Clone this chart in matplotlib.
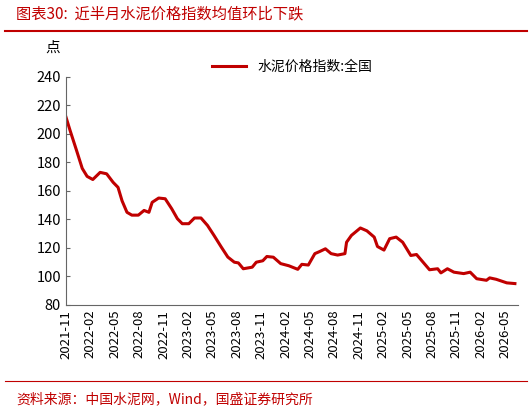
import matplotlib
matplotlib.use("Agg")
import matplotlib.pyplot as plt
import matplotlib.lines as mlines

plt.rcParams['font.family'] = ['Noto Sans CJK SC', 'DejaVu Sans']

# months since 2021-11
months = [0, 0.5, 1.3, 2.0, 2.6, 3.3, 4.2, 5.0, 5.8, 6.4, 6.9, 7.5, 8.1, 8.9, 9.6, 10.2, 10.6,
          11.4, 12.2, 13.0, 13.7, 14.3, 15.1, 15.8, 16.6, 17.4, 18.2, 19.1, 19.9, 20.7, 21.2,
          21.8, 22.9, 23.4, 24.2, 24.7, 25.5, 26.4, 27.4, 28.5, 29.0, 29.8, 30.6, 31.2, 31.9,
          32.6, 33.4, 34.3, 34.5, 35.1, 36.2, 37.0, 37.9, 38.3, 39.1, 39.8, 40.6, 41.4, 42.4,
          43.1, 44.7, 45.7, 46.1, 46.9, 47.7, 48.9, 49.7, 50.5, 51.7, 52.1, 52.9, 54.2, 55.2]
values = [211.8, 202.5, 188.4, 175.8, 170.2, 168, 173, 172, 166, 162.5, 153, 145, 143, 143,
          146.3, 145, 152, 155, 154.5, 147.5, 140.5, 137, 137, 141, 141, 135.8, 128.8, 120.6,
          113.6, 110, 109.5, 105.4, 106.5, 110, 111, 114, 113.5, 109, 107.5, 105, 108.5, 108,
          116, 117.5, 119.4, 116, 115, 116, 124, 128.8, 134, 132, 127.6, 121, 118.5, 126.5,
          127.6, 124, 114.7, 115.4, 104.7, 105.4, 102.5, 105.4, 103, 102, 103, 98.4, 97.3, 99,
          98, 95.5, 95]
tick_labels = ['2021-11', '2022-02', '2022-05', '2022-08', '2022-11', '2023-02', '2023-05',
               '2023-08', '2023-11', '2024-02', '2024-05', '2024-08', '2024-11', '2025-02',
               '2025-05', '2025-08', '2025-11', '2026-02', '2026-05']
series_name = '水泥价格指数:全国'

fig = plt.figure(figsize=(5.32, 4.11), dpi=100)
ax = fig.add_axes([0.124, 0.258, 0.85, 0.555])
ax.plot(months, values, color='#C00000', lw=2.2, label=series_name)
ax.set_xlim(0, 55.6)
ax.set_ylim(80, 240)
ax.set_yticks(range(80, 241, 20))
ax.set_xticks([i * 3 for i in range(len(tick_labels))])
ax.set_xticklabels(tick_labels, rotation=90, fontsize=9.5)
ax.tick_params(axis='y', labelsize=10.5, direction='in', length=3, color='#666666')
ax.tick_params(axis='x', direction='in', length=0)
for s in ['top', 'right']:
    ax.spines[s].set_visible(False)
ax.spines['left'].set_color('#666666')
ax.spines['bottom'].set_color('#666666')
ax.legend(loc='upper center', bbox_to_anchor=(0.5, 1.13), frameon=False, fontsize=10,
          handlelength=2.5)
fig.text(0.085, 0.875, '点', fontsize=10.5)
fig.text(0.03, 0.955, '图表30:  近半月水泥价格指数均值环比下跌', color='#C00000',
         fontsize=11, style='italic')
fig.add_artist(mlines.Line2D([0.01, 0.99], [0.925, 0.925], color='#C00000', lw=1.5))
fig.add_artist(mlines.Line2D([0.01, 0.99], [0.072, 0.072], color='#C00000', lw=0.8))
fig.text(0.03, 0.02, '资料来源：中国水泥网，Wind，国盛证券研究所', color='#C00000',
         fontsize=10, style='italic')
fig.savefig('out.png', dpi=100)
